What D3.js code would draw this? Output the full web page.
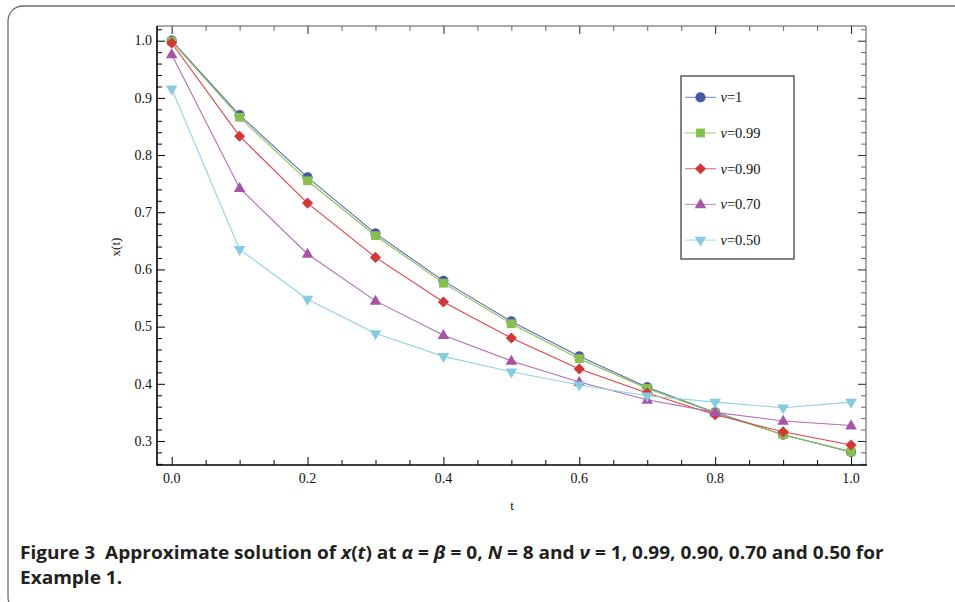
<!DOCTYPE html>
<html>
<head>
<meta charset="utf-8">
<script src="https://cdn.jsdelivr.net/npm/d3@7"></script>
<style>
  html, body { margin: 0; padding: 0; background: #fff; }
  svg { display: block; }
</style>
</head>
<body>
<svg id="chart" width="955" height="602"></svg>
<script>
// ---------- data ----------
const tValues = [0.0, 0.1, 0.2, 0.3, 0.4, 0.5, 0.6, 0.7, 0.8, 0.9, 1.0];
const seriesLabels = ["1", "0.99", "0.90", "0.70", "0.50"];
const nu100 = [1.000, 0.870, 0.761, 0.663, 0.580, 0.509, 0.448, 0.394, 0.350, 0.311, 0.281];
const nu099 = [0.999, 0.866, 0.755, 0.659, 0.576, 0.505, 0.444, 0.392, 0.349, 0.311, 0.281];
const nu090 = [0.996, 0.833, 0.716, 0.621, 0.543, 0.480, 0.426, 0.384, 0.346, 0.316, 0.293];
const nu070 = [0.976, 0.742, 0.627, 0.545, 0.485, 0.440, 0.403, 0.372, 0.350, 0.335, 0.327];
const nu050 = [0.916, 0.635, 0.548, 0.488, 0.448, 0.421, 0.398, 0.379, 0.368, 0.358, 0.368];
const xTickLabels = ["0.0", "0.2", "0.4", "0.6", "0.8", "1.0"];
const yTickLabels = ["0.3", "0.4", "0.5", "0.6", "0.7", "0.8", "0.9", "1.0"];

const seriesValues = [nu100, nu099, nu090, nu070, nu050];
const lineColors   = ["#5b68b4", "#86c251", "#e04444", "#b46cb4", "#92d2e2"];
const markerColors = ["#4a57a6", "#86c04e", "#d33838", "#a655a6", "#86cbe0"];
const markerKinds  = ["circle", "square", "diamond", "triangle", "triangledown"];

// ---------- layout ----------
const svg = d3.select("#chart");
const frame = { left: 157, right: 866, top: 26, bottom: 465 };

const x = d3.scaleLinear().domain([-0.0216, 1.022]).range([frame.left, frame.right]);
const y = d3.scaleLinear().domain([0.258, 1.0257]).range([frame.bottom, frame.top]);

// card border
svg.append("rect")
  .attr("x", 8).attr("y", 6)
  .attr("width", 1000).attr("height", 606)
  .attr("rx", 15).attr("ry", 15)
  .attr("fill", "none").attr("stroke", "#6e6e6e").attr("stroke-width", 1.3);

const serif = "'Liberation Serif', 'Times New Roman', serif";

// ---------- axes ----------
const xMajor = xTickLabels.map(Number);
const yMajor = yTickLabels.map(Number);
const xMinor = d3.range(0, 1.0001, 0.05).filter(v => !xMajor.some(m => Math.abs(m - v) < 1e-6));
const yMinor = d3.range(0.26, 1.0201, 0.02).filter(v => !yMajor.some(m => Math.abs(m - v) < 1e-6));

function tickAxis(axisFn, scale, values, size, translate, color) {
  const g = svg.append("g")
    .attr("transform", translate)
    .call(axisFn(scale).tickValues(values).tickSize(size).tickFormat(""));
  g.select(".domain").remove();
  g.selectAll(".tick line").attr("stroke", color).attr("stroke-width", 1);
  return g;
}
tickAxis(d3.axisBottom, x, xMajor, -8, `translate(0,${frame.bottom})`, "#000");
tickAxis(d3.axisBottom, x, xMinor, -5, `translate(0,${frame.bottom})`, "#000");
tickAxis(d3.axisTop, x, xMajor, -8, `translate(0,${frame.top})`, "#222");
tickAxis(d3.axisTop, x, xMinor, -5, `translate(0,${frame.top})`, "#666");
tickAxis(d3.axisLeft, y, yMajor, -8, `translate(${frame.left},0)`, "#000");
tickAxis(d3.axisLeft, y, yMinor, -5, `translate(${frame.left},0)`, "#000");
tickAxis(d3.axisRight, y, yMajor, -8, `translate(${frame.right},0)`, "#222");
tickAxis(d3.axisRight, y, yMinor, -5, `translate(${frame.right},0)`, "#666");

// frame lines
svg.append("line").attr("x1", frame.left).attr("x2", frame.right).attr("y1", frame.top).attr("y2", frame.top)
  .attr("stroke", "#555").attr("stroke-width", 1);
svg.append("line").attr("x1", frame.right).attr("x2", frame.right).attr("y1", frame.top).attr("y2", frame.bottom)
  .attr("stroke", "#555").attr("stroke-width", 1);
svg.append("line").attr("x1", frame.left).attr("x2", frame.right + 1).attr("y1", frame.bottom).attr("y2", frame.bottom)
  .attr("stroke", "#000").attr("stroke-width", 1.6);
svg.append("line").attr("x1", frame.left).attr("x2", frame.left).attr("y1", frame.top).attr("y2", frame.bottom + 0.8)
  .attr("stroke", "#000").attr("stroke-width", 1.6);

// tick labels
svg.append("g").selectAll("text").data(xTickLabels).join("text")
  .attr("x", d => x(+d)).attr("y", frame.bottom + 18)
  .attr("text-anchor", "middle")
  .attr("font-family", serif).attr("font-size", 14).attr("fill", "#111")
  .text(d => d);
svg.append("g").selectAll("text").data(yTickLabels).join("text")
  .attr("x", frame.left - 5).attr("y", d => y(+d) + 4.8)
  .attr("text-anchor", "end")
  .attr("font-family", serif).attr("font-size", 14).attr("fill", "#111")
  .text(d => d);

// axis titles
svg.append("text").attr("x", 512).attr("y", 510)
  .attr("text-anchor", "middle").attr("font-family", serif).attr("font-size", 13).attr("fill", "#111")
  .text("t");
svg.append("text").attr("transform", "translate(120,247) rotate(-90)")
  .attr("text-anchor", "middle").attr("font-family", serif).attr("font-size", 13).attr("fill", "#111")
  .text("x(t)");

// ---------- markers ----------
function markerPath(kind) {
  switch (kind) {
    case "circle": return d3.symbol(d3.symbolCircle, 82)();
    case "square": return d3.symbol(d3.symbolSquare, 78)();
    case "diamond": return d3.symbol(d3.symbolSquare, 62)();
    case "triangle": return d3.symbol(d3.symbolTriangle, 58)();
    case "triangledown": return d3.symbol(d3.symbolTriangle, 58)();
  }
}
function markerTransform(kind, px, py) {
  if (kind === "diamond") return `translate(${px},${py}) rotate(45)`;
  if (kind === "triangledown") return `translate(${px},${py}) rotate(180)`;
  if (kind === "triangle") return `translate(${px},${py + 0.5})`;
  return `translate(${px},${py})`;
}

// ---------- series ----------
const line = d3.line().x(d => x(d[0])).y(d => y(d[1]));
seriesValues.forEach((vals, i) => {
  const pts = tValues.map((t, j) => [t, vals[j]]);
  const g = svg.append("g");
  g.append("path").datum(pts)
    .attr("d", line)
    .attr("fill", "none").attr("stroke", lineColors[i]).attr("stroke-width", 1.1);
  g.selectAll("path.m").data(pts).join("path").attr("class", "m")
    .attr("d", markerPath(markerKinds[i]))
    .attr("transform", d => markerTransform(markerKinds[i], x(d[0]), y(d[1])))
    .attr("fill", markerColors[i]);
});

// ---------- legend ----------
const lg = svg.append("g");
lg.append("rect").attr("x", 681).attr("y", 76).attr("width", 113).attr("height", 183)
  .attr("fill", "#fff").attr("stroke", "#333").attr("stroke-width", 1.2);
seriesLabels.forEach((lab, i) => {
  const cy = 97.3 + i * 35.7;
  lg.append("line").attr("x1", 685).attr("x2", 716).attr("y1", cy).attr("y2", cy)
    .attr("stroke", lineColors[i]).attr("stroke-width", 1.1).attr("opacity", 0.75);
  lg.append("path").attr("d", markerPath(markerKinds[i]))
    .attr("transform", markerTransform(markerKinds[i], 700.5, cy))
    .attr("fill", markerColors[i]);
  const t = lg.append("text").attr("x", 720.5).attr("y", cy + 4.8)
    .attr("font-family", serif).attr("font-size", 14.5).attr("fill", "#111");
  t.append("tspan").attr("font-style", "italic").text("ν");
  t.append("tspan").text("=" + lab);
});

// ---------- caption ----------
const capFont = "'Open Sans', 'Noto Sans', sans-serif";
const cap = svg.append("g").attr("fill", "#231f20").attr("font-family", capFont)
  .attr("font-weight", "bold").attr("font-size", 18);
const l1 = cap.append("text").attr("x", 0).attr("y", 0).attr("xml:space", "preserve").style("white-space", "pre");
const parts = [
  ["Figure 3  Approximate solution of ", false], ["x", true], ["(", false], ["t", true], [") at ", false],
  ["α", true], [" = ", false], ["β", true], [" = 0, ", false], ["N", true], [" = 8 and ", false],
  ["ν", true], [" = 1, 0.99, 0.90, 0.70 and 0.50 for", false]
];
parts.forEach(([s, it]) => l1.append("tspan").attr("font-style", it ? "italic" : "normal").text(s));
const l2 = cap.append("text").attr("x", 0).attr("y", 25).text("Example 1.");
const w1 = l1.node().getComputedTextLength();
const sx = 864 / w1;
cap.attr("transform", `translate(20,559) scale(${sx},1)`);
</script>
</body>
</html>
